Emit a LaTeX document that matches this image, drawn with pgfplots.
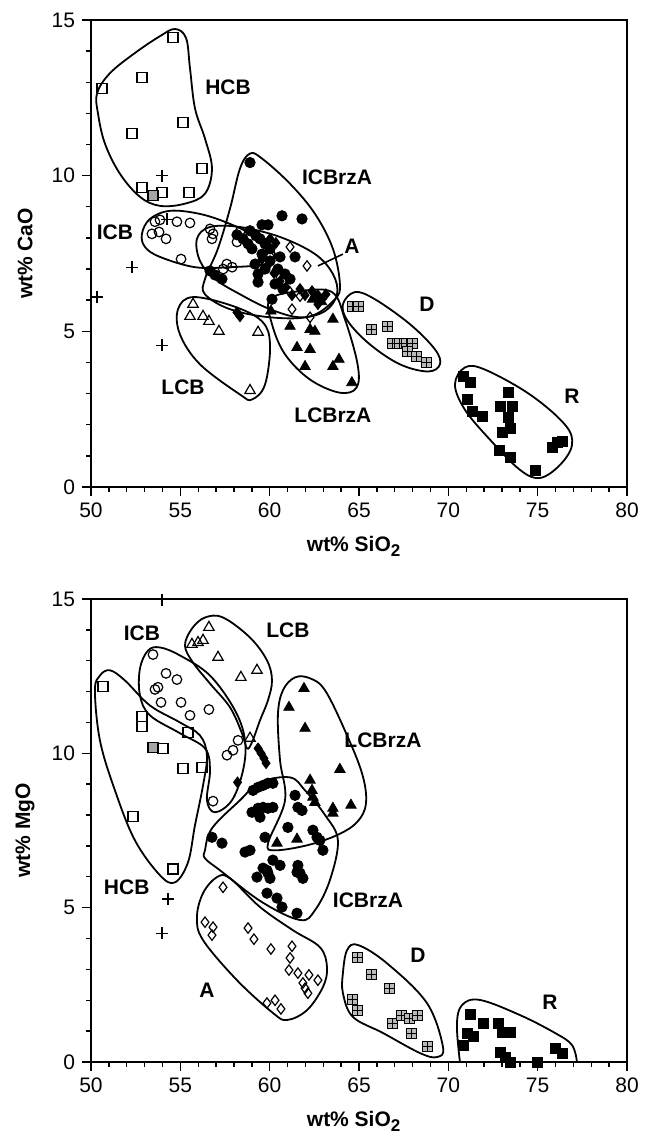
\documentclass[border=0pt]{standalone}
\usepackage{fontspec}
\setmainfont{Liberation Sans}
\usepackage{pgfplots}
\pgfplotsset{compat=1.18}

\pgfdeclareplotmark{boxplus}{%
  \pgfpathrectangle{\pgfpoint{-\pgfplotmarksize}{-\pgfplotmarksize}}{\pgfpoint{2\pgfplotmarksize}{2\pgfplotmarksize}}%
  \pgfusepathqfillstroke
  \pgfpathmoveto{\pgfpoint{-\pgfplotmarksize}{0pt}}\pgfpathlineto{\pgfpoint{\pgfplotmarksize}{0pt}}%
  \pgfpathmoveto{\pgfpoint{0pt}{-\pgfplotmarksize}}\pgfpathlineto{\pgfpoint{0pt}{\pgfplotmarksize}}%
  \pgfusepathqstroke}

\tikzset{grp/.style={font=\bfseries\fontsize{10.5}{12}\selectfont}}

\pgfplotsset{
  chem/.style={
    scale only axis, width=268pt,
    xmin=50, xmax=80, ymin=0, ymax=15,
    xtick={50,55,...,80}, ytick={0,5,10,15},
    minor x tick num=4, minor y tick num=4,
    tick align=outside, xtick pos=bottom, ytick pos=left,
    major tick length=4.5pt, minor tick length=2.5pt,
    axis line style={line width=0.8pt},
    every tick/.style={black, line width=0.7pt},
    tick label style={font=\fontsize{10.5}{12}\selectfont},
    /pgf/number format/assume math mode=true,
    every axis y label/.style={at={(axis description cs:-0.123,0.5)}, rotate=90, anchor=center, font=\bfseries\fontsize{10.5}{12}\selectfont},
    every axis x label/.style={at={(axis description cs:0.49,-0.128)}, anchor=center, font=\bfseries\fontsize{10.5}{12}\selectfont},
    clip=false,
  },
  outl/.style={black, line width=0.9pt, no markers, smooth cycle, tension=0.6},
  hcb/.style={only marks, mark=square, mark size=2.5pt, black, mark options={line width=0.6pt}},
  hcbf/.style={only marks, mark=square*, mark size=2.5pt, black, mark options={fill=gray!70, line width=0.6pt}},
  icb/.style={only marks, mark=o, mark size=2.4pt, black, mark options={line width=0.6pt}},
  lcb/.style={only marks, mark=triangle, mark size=3pt, black, mark options={line width=0.6pt}},
  lcbrza/.style={only marks, mark=triangle*, mark size=3pt, black},
  icbrza/.style={only marks, mark=*, mark size=2.6pt, black},
  adia/.style={only marks, mark=diamond, mark size=2.6pt, black, mark options={line width=0.6pt}},
  fdia/.style={only marks, mark=diamond*, mark size=2.7pt, black},
  dbox/.style={only marks, mark=boxplus, mark size=2.5pt, black, mark options={fill=gray!55, line width=0.5pt}},
  rsq/.style={only marks, mark=square*, mark size=2.5pt, black},
  pls/.style={only marks, mark=+, mark size=3pt, black, mark options={line width=0.6pt}},
}

\begin{document}
\begin{tikzpicture}
\useasboundingbox (0,0) rectangle (323pt,571.5pt);

% ================= TOP: CaO =================
\begin{axis}[chem, at={(45.5pt,328pt)}, anchor=south west, height=233.5pt,
  xlabel={wt\% SiO\raisebox{-0.45ex}{\fontsize{8.5}{9}\selectfont 2}}, ylabel={wt\% CaO}]
% outlines
\addplot[outl] coordinates {(50.34,12.65) (51.06,13.29) (52.46,13.94) (53.86,14.48) (54.70,14.71) (55.32,14.42) (55.54,13.45) (55.82,12.16) (56.38,11.19) (56.77,10.23) (56.38,9.42) (55.26,9.10) (53.86,9.03) (52.74,9.32) (51.62,10.06) (50.78,11.03) (50.39,12.0)};
\addplot[outl] coordinates {(52.85,8.13) (53.30,8.61) (54.42,8.87) (56.10,8.77) (57.78,8.45) (59.46,7.97) (60.30,7.48) (59.74,7.16) (57.78,7.06) (55.82,7.06) (53.86,7.39) (53.02,7.71)};
\addplot[outl] coordinates {(55.93,7.97) (56.66,8.35) (58.34,8.35) (60.58,8.03) (62.54,7.48) (63.54,6.84) (63.77,6.19) (63.10,5.65) (61.70,5.45) (60.02,5.71) (58.34,6.19) (56.94,6.68) (56.10,7.26)};
\addplot[outl] coordinates {(58.90,10.71) (59.57,10.55) (61.14,9.74) (62.54,8.77) (63.54,7.65) (63.93,6.52) (63.65,6.03) (62.26,5.48) (60.02,5.45) (57.78,5.71) (56.38,6.19) (56.38,6.68) (57.10,7.65) (57.78,8.94) (58.34,10.23)};
\addplot[outl] coordinates {(54.87,5.71) (55.71,6.10) (57.95,5.81) (59.57,5.32) (60.02,4.58) (59.74,3.29) (59.01,2.81) (58.34,2.97) (56.10,3.94) (54.98,4.90)};
\addplot[outl] coordinates {(60.02,6.03) (61.70,6.29) (63.49,6.26) (64.21,5.39) (64.92,3.94) (64.86,3.19) (63.91,3.03) (62.26,3.45) (60.86,4.26) (60.13,5.23)};
\addplot[outl] coordinates {(64.10,5.87) (64.77,6.26) (65.89,6.03) (67.85,5.23) (69.25,4.42) (69.53,3.94) (68.86,3.71) (67.29,3.94) (65.61,4.58) (64.38,5.32)};
\addplot[outl] coordinates {(70.37,3.29) (70.93,3.84) (72.05,3.77) (74.57,2.97) (76.53,2.00) (76.92,1.35) (76.25,0.71) (75.13,0.29) (74.01,0.55) (72.33,1.52) (70.93,2.48)};
\addplot[black, line width=0.8pt, no markers] coordinates {(64.10,7.48) (62.70,7.10)};
% points
\addplot[hcb] coordinates {(54.59,14.45) (52.85,13.16) (50.62,12.81) (55.15,11.71) (52.29,11.35) (56.21,10.23) (52.85,9.61) (53.97,9.45) (55.48,9.45)};
\addplot[hcbf] coordinates {(53.47,9.35)};
\addplot[pls] coordinates {(53.97,10.0) (54.25,8.6) (52.29,7.06) (50.34,6.10) (53.97,4.55)};
\addplot[icb] coordinates {(53.58,8.52) (53.86,8.58) (54.81,8.52) (55.54,8.48) (53.41,8.13) (53.81,8.19) (54.2,7.97) (55.04,7.32) (56.66,8.29) (56.83,8.13) (56.77,7.97) (57.6,7.16) (57.9,7.06) (57.4,7.0) (58.17,7.87) (58.34,8.2)};
\addplot[icbrza] coordinates {(58.90,10.42) (59.57,8.42) (59.91,8.42) (60.69,8.71) (61.81,8.61) (59.18,7.16) (60.58,7.39) (61.42,7.39) (58.17,8.10) (58.51,7.97) (58.79,7.81) (59.01,7.65) (59.46,7.97) (59.74,7.81) (60.02,7.65) (59.57,7.48) (60.02,7.26) (60.46,7.00) (60.86,6.84) (61.14,6.68) (59.74,7.00) (59.35,6.84) (60.30,6.52) (60.74,6.36) (56.66,6.94) (56.94,6.81) (57.33,6.68) (59.35,6.58) (60.13,6.03) (58.90,8.23) (59.23,8.07)};
\addplot[fdia] coordinates {(59.57,7.32) (59.91,7.13) (60.24,6.87) (60.58,6.61) (60.91,6.42) (61.25,6.16) (61.70,6.36) (61.98,6.16) (62.37,6.29) (62.70,6.16) (62.93,6.03) (63.15,6.19) (62.70,5.87) (60.02,7.97) (60.35,7.84) (58.17,5.61) (58.34,5.48)};
\addplot[adia] coordinates {(61.14,7.71) (62.09,7.1) (60.02,7.42) (60.58,6.74) (61.14,6.26) (61.7,6.13) (61.25,5.71) (62.26,5.45) (62.65,6.13)};
\addplot[lcb] coordinates {(55.71,5.87) (55.54,5.48) (56.27,5.48) (56.6,5.32) (57.16,5.0) (59.35,4.97) (58.9,3.1)};
\addplot[lcbrza] coordinates {(61.14,5.16) (62.26,5.06) (62.53,5.0) (63.54,5.39) (61.53,4.48) (62.26,4.42) (61.98,3.87) (63.54,3.87) (63.88,4.1) (64.6,3.35) (62.4,6.03) (60.07,5.65) (62.9,5.95)};
\addplot[dbox] coordinates {(64.66,5.81) (64.95,5.81) (65.72,5.06) (66.62,5.16) (66.9,4.61) (67.29,4.61) (67.68,4.61) (68.02,4.61) (67.74,4.35) (68.24,4.19) (68.8,4.0)};
\addplot[rsq] coordinates {(70.82,3.55) (71.26,3.35) (71.04,2.81) (71.32,2.42) (71.88,2.26) (73.34,3.03) (72.89,2.58) (73.56,2.58) (73.34,2.23) (73.45,1.87) (73.0,1.74) (72.83,1.19) (73.45,0.94) (74.9,0.52) (76.08,1.42) (76.36,1.45) (75.85,1.26)};
% labels
\node[grp] at (axis cs:57.67,12.84) {HCB};
\node[grp] at (axis cs:63.77,9.94) {ICBrzA};
\node[grp] at (axis cs:51.34,8.19) {ICB};
\node[grp] at (axis cs:64.6,7.74) {A};
\node[grp] at (axis cs:68.8,5.87) {D};
\node[grp] at (axis cs:55.15,3.19) {LCB};
\node[grp] at (axis cs:63.54,2.30) {LCBrzA};
\node[grp] at (axis cs:76.92,2.90) {R};
\end{axis}

% ================= BOTTOM: MgO =================
\begin{axis}[chem, at={(45.5pt,40.5pt)}, anchor=south west, height=231.5pt,
  xlabel={wt\% SiO\raisebox{-0.45ex}{\fontsize{8.5}{9}\selectfont 2}}, ylabel={wt\% MgO}]
% outlines
\addplot[outl] coordinates {(50.22,12.04) (50.50,12.52) (51.06,12.69) (51.90,12.36) (53.30,11.55) (54.98,11.00) (56.10,10.58) (56.49,9.93) (56.27,8.96) (55.82,7.67) (55.43,6.47) (54.70,5.82) (53.86,6.05) (52.46,7.18) (51.34,8.80) (50.50,10.42)};
\addplot[outl] coordinates {(52.74,12.75) (53.19,13.33) (53.86,13.43) (54.98,13.17) (56.66,12.52) (58.06,11.39) (58.62,10.42) (58.51,9.45) (57.89,8.48) (56.94,8.09) (56.49,8.48) (56.66,9.45) (56.38,10.16) (54.98,10.65) (53.30,11.23) (52.74,11.88)};
\addplot[outl] coordinates {(55.26,13.49) (55.65,14.04) (56.38,14.40) (57.39,14.40) (58.90,13.75) (59.85,13.01) (60.13,12.36) (59.90,11.71) (59.46,11.07) (59.01,10.36) (58.73,10.16) (58.45,10.65) (57.78,11.49) (56.66,12.26) (55.71,12.94)};
\addplot[outl] coordinates {(60.74,12.04) (61.42,12.46) (62.26,12.43) (63.10,12.04) (64.21,10.74) (65.17,9.35) (65.39,8.38) (64.89,7.77) (63.77,7.35) (62.09,7.02) (60.30,6.86) (59.91,7.09) (60.86,8.48) (60.58,9.77) (60.46,11.23)};
\addplot[outl] coordinates {(56.38,6.86) (56.77,7.57) (58.34,8.48) (59.46,9.06) (61.14,9.22) (61.98,8.80) (63.10,8.00) (63.82,7.18) (63.37,5.89) (62.54,4.92) (61.70,4.60) (59.57,5.18) (57.22,6.21) (56.38,6.60)};
\addplot[outl] coordinates {(56.27,5.47) (57.05,5.99) (57.78,5.95) (59.46,5.02) (61.30,4.27) (62.81,3.72) (63.21,3.07) (62.98,2.43) (62.09,1.68) (60.97,1.36) (60.18,1.59) (58.17,2.65) (56.27,3.95) (55.93,4.69)};
\addplot[outl] coordinates {(64.10,2.88) (64.33,3.62) (64.94,3.79) (66.56,3.20) (68.80,1.91) (69.70,0.49) (69.36,0.16) (68.41,0.29) (66.34,0.94) (64.66,1.46) (64.10,2.23)};
\addplot[black, line width=0.9pt, no markers, smooth, tension=0.6] coordinates {(70.65,0) (70.48,1.20) (70.76,1.84) (71.77,2.01) (74.01,1.52) (75.97,0.94) (76.92,0.55) (77.20,0)};
% points
\addplot[hcb] coordinates {(50.67,12.17) (52.85,11.2) (52.85,10.87) (54.03,10.16) (55.43,10.68) (55.15,9.51) (56.21,9.55) (52.35,7.96) (54.59,6.25)};
\addplot[hcbf] coordinates {(53.47,10.2)};
\addplot[pls] coordinates {(53.97,14.98) (54.31,5.28) (53.97,4.17)};
\addplot[icb] coordinates {(53.47,13.2) (54.2,12.59) (54.81,12.39) (53.75,12.14) (53.58,12.07) (53.92,11.65) (55.04,11.65) (55.54,11.23) (56.6,11.42) (58.23,10.42) (57.95,10.1) (57.61,9.94) (56.83,8.45)};
\addplot[lcb] coordinates {(56.6,14.08) (56.27,13.66) (55.99,13.59) (55.65,13.53) (57.11,13.11) (59.29,12.69) (58.39,12.46) (58.9,10.49)};
\addplot[fdia] coordinates {(59.35,10.16) (59.52,10.0) (59.68,9.84) (59.8,9.68) (58.2,9.06)};
\addplot[icbrza] coordinates {(59.07,8.80) (59.35,8.90) (59.63,8.96) (59.90,9.03) (60.18,9.03) (59.01,8.09) (59.35,8.22) (59.63,8.25) (59.90,8.22) (60.18,8.25) (59.46,7.93) (61.42,8.64) (61.81,8.15) (61.58,8.25) (61.02,7.60) (59.74,7.28) (62.42,7.51) (62.65,7.28) (62.81,7.18) (62.98,6.86) (56.77,7.28) (57.33,7.09) (58.62,6.80) (58.90,6.86) (60.18,6.54) (60.58,6.37) (61.58,6.37) (61.53,6.15) (59.85,6.21) (59.29,5.99) (59.63,6.28) (59.90,6.12) (60.02,5.95) (61.70,6.12) (61.86,5.95) (59.85,5.47) (60.41,5.31) (60.69,5.02) (61.53,4.82)};
\addplot[lcbrza] coordinates {(61.92,12.1) (61.08,11.49) (61.98,10.81) (63.93,9.48) (62.26,9.13) (62.37,8.8) (62.42,8.58) (62.53,8.41) (63.54,8.22) (63.54,8.06) (64.55,8.32) (60.41,7.09) (61.53,7.22)};
\addplot[adia] coordinates {(57.39,5.66) (56.38,4.53) (56.83,4.37) (56.77,4.11) (58.79,4.34) (59.12,3.98) (60.07,3.66) (61.25,3.75) (61.14,3.37) (61.08,2.98) (61.58,2.88) (62.2,2.82) (62.7,2.65) (61.86,2.56) (61.98,2.39) (62.14,2.23) (59.85,1.91) (60.3,2.0) (60.63,1.72)};
\addplot[dbox] coordinates {(64.89,3.37) (65.72,2.82) (66.68,2.39) (64.66,2.04) (64.89,1.68) (66.9,1.26) (67.4,1.52) (67.85,1.42) (68.3,1.52) (67.96,0.91) (68.86,0.49)};
\addplot[rsq] coordinates {(71.26,1.55) (71.94,1.26) (72.78,1.26) (73.0,0.97) (73.45,0.97) (71.04,0.94) (71.38,0.84) (70.82,0.55) (72.89,0.32) (73.2,0.15) (73.5,0.0) (75.0,0.0) (75.97,0.45) (76.36,0.29)};
% labels
\node[grp] at (axis cs:52.85,13.88) {ICB};
\node[grp] at (axis cs:61.02,13.98) {LCB};
\node[grp] at (axis cs:66.34,10.42) {LCBrzA};
\node[grp] at (axis cs:52.0,5.66) {HCB};
\node[grp] at (axis cs:65.5,5.24) {ICBrzA};
\node[grp] at (axis cs:56.49,2.33) {A};
\node[grp] at (axis cs:68.3,3.46) {D};
\node[grp] at (axis cs:75.69,1.94) {R};
\end{axis}
\end{tikzpicture}
\end{document}
